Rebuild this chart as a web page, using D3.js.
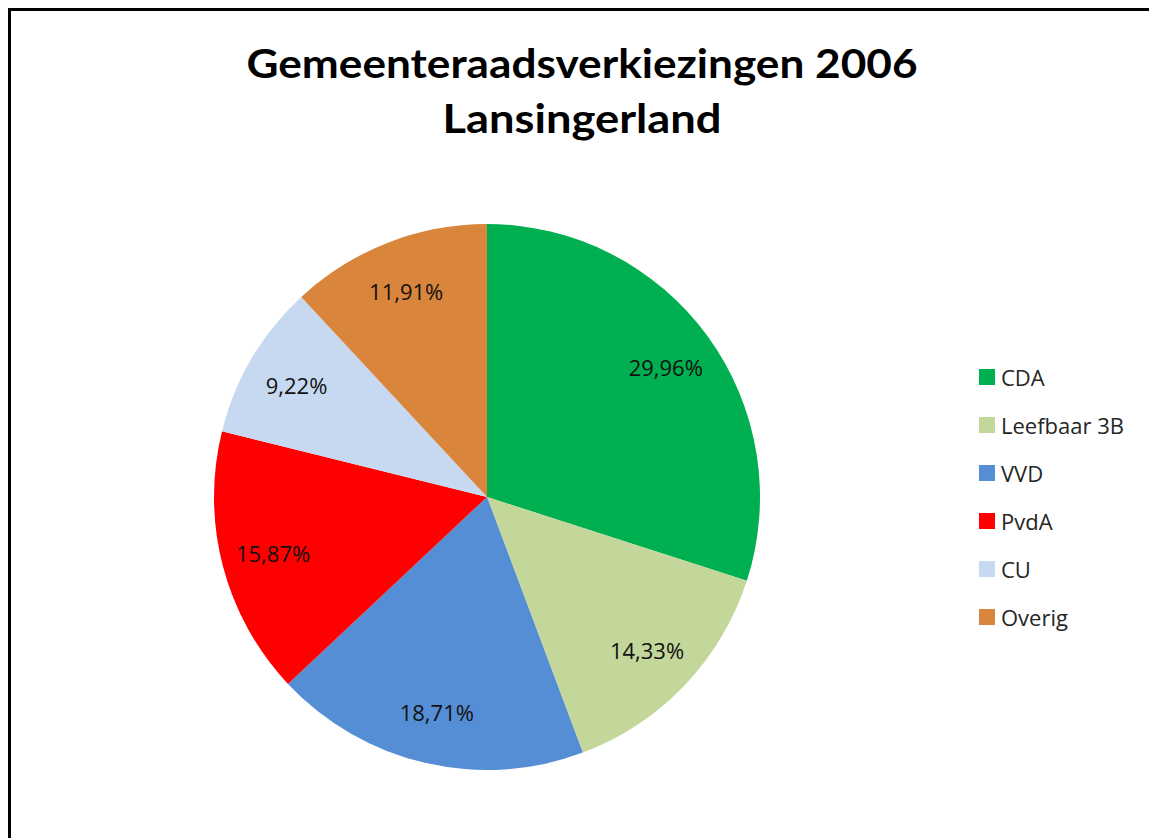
<!DOCTYPE html>
<html>
<head>
<meta charset="utf-8">
<script src="https://cdn.jsdelivr.net/npm/d3@7"></script>
<style>
  html, body { margin: 0; background: #fff; overflow: hidden; }
  svg { display: block; font-family: "Open Sans", Lato, sans-serif; }
</style>
</head>
<body>
<div class="pie-chart-container"></div>
<script>
const parties = ['CDA', 'Leefbaar 3B', 'VVD', 'PvdA', 'CU', 'Overig'];
const shares = [29.96, 14.33, 18.71, 15.87, 9.22, 11.91];
const colors = ['#00B050', '#C4D79B', '#558ED5', '#FF0000', '#C6D9F1', '#D9853B'];
const titleLines = ['Gemeenteraadsverkiezingen 2006', 'Lansingerland'];

const svg_width = 1149;
const svg_height = 838;

const svg = d3.select('.pie-chart-container')
              .append('svg')
              .attr('width', svg_width)
              .attr('height', svg_height);

// chart frame: only the left and top edges fall inside the picture
svg.append('path')
   .attr('d', `M9.5,${svg_height} V9.5 H${svg_width}`)
   .style('fill', 'none').style('stroke', '#000').style('stroke-width', 3);

const data = parties.map((p, i) => ({party: p, value: shares[i], color: colors[i]}));

const radius = 273;
const pieGen = d3.pie().value(d => d.value).sort(null);
const arcGen = d3.arc().innerRadius(0).outerRadius(radius);
const labelArc = d3.arc().innerRadius(radius * 0.81).outerRadius(radius * 0.81);

const pieGroup = svg.append('g')
                    .attr('class', 'pie')
                    .attr('transform', 'translate(487, 497)');

const arcs = pieGen(data);

pieGroup.selectAll('.slice')
        .data(arcs)
        .enter()
        .append('path')
        .attr('class', 'slice')
        .attr('d', arcGen)
        .style('fill', d => d.data.color);

pieGroup.selectAll('.slice-label')
        .data(arcs)
        .enter()
        .append('text')
        .attr('class', 'slice-label')
        .attr('transform', d => `translate(${labelArc.centroid(d)})`)
        .attr('text-anchor', 'middle')
        .style('dominant-baseline', 'central')
        .style('font-size', '22px')
        .style('fill', '#111')
        .text(d => d3.format('.2f')(d.data.value).replace('.', ',') + '%');

// title
const title = svg.append('text')
                 .attr('text-anchor', 'middle')
                 .style('font-family', 'Lato, sans-serif')
                 .style('font-size', '40px')
                 .style('font-weight', 'bold')
                 .style('fill', '#000');
title.selectAll('tspan')
     .data(titleLines)
     .enter()
     .append('tspan')
     .attr('x', 582)
     .attr('y', (d, i) => 78 + i * 55)
     .attr('textLength', (d, i) => i === 0 ? 671 : 279)
     .attr('lengthAdjust', 'spacingAndGlyphs')
     .text(d => d);

// legend
const legend = svg.append('g')
                  .attr('class', 'legend')
                  .attr('transform', 'translate(979, 377)');

const legendItem = legend.selectAll('.legend-item')
                         .data(data)
                         .enter()
                         .append('g')
                         .attr('class', 'legend-item')
                         .attr('transform', (d, i) => `translate(0, ${i * 48})`);

legendItem.append('rect')
          .attr('x', 0).attr('y', -8)
          .attr('width', 16).attr('height', 16)
          .style('fill', d => d.color);

legendItem.append('text')
          .attr('x', 22)
          .style('dominant-baseline', 'central')
          .style('font-size', '22px')
          .style('fill', '#262626')
          .text(d => d.party);
</script>
</body>
</html>
